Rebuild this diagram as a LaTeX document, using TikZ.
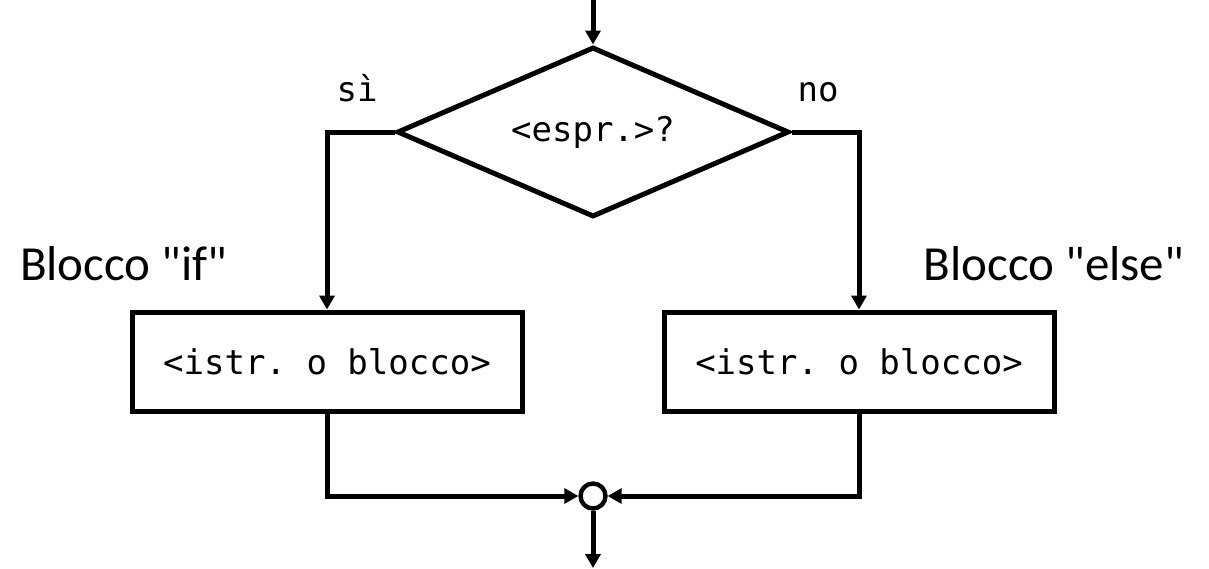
\documentclass[tikz,border=0pt]{standalone}
\usepackage{fontspec}
\setmainfont{Carlito}[Ligatures=TeXOff]
\newfontfamily\codefont{DejaVu Sans Mono}
\usetikzlibrary{shapes.geometric,arrows.meta}
\frenchspacing

\tikzset{
  flow/.style={line width=2.5pt, -{Triangle[length=7pt,width=7.5pt]}},
  decision/.style={draw, diamond, line width=2.5pt, inner sep=0pt, aspect=2.3,
    minimum width=196pt, minimum height=85pt, font=\codefont\fontsize{17}{20}\selectfont},
  block/.style={draw, rectangle, line width=2.5pt, minimum width=195pt, minimum height=49.5pt,
    font=\codefont\fontsize{17}{20}\selectfont},
  junction/.style={draw, circle, line width=2.2pt, inner sep=0pt, minimum size=12.5pt, fill=white},
  branch/.style={anchor=base, font=\codefont\fontsize{17}{20}\selectfont},
  caption/.style={anchor=base, font=\fontsize{24.5}{28}\selectfont}
}

\begin{document}
\begin{tikzpicture}[x=0.5pt,y=-0.5pt]
\useasboundingbox (0,0) rectangle (1209,568);

% Decision
\coordinate (start) at (593,0);
\node[decision] (cond) at (593,132) {<espr.>?};
\node[branch] (yes) at (357,101) {sì};
\node[branch] (no) at (818,101) {no};

% Branches
\node[block] (ifblk) at (327,361.5) {<istr. o blocco>};
\node[block] (elseblk) at (859,361.5) {<istr. o blocco>};
\node[caption, anchor=base west] (iflabel) at (13,280) {Blocco "if"};
\node[caption, anchor=base east] (elselabel) at (1191,280) {Blocco "else"};

% Merge
\node[junction] (merge) at (593,496) {};
\coordinate (end) at (593,568);

\draw[flow] (start) -- (cond.north);
\draw[flow] (cond.west) -| (ifblk.north);
\draw[flow] (cond.east) -| (elseblk.north);
\draw[flow] (ifblk.south) |- (merge.west);
\draw[flow] (elseblk.south) |- (merge.east);
\draw[flow] (merge.south) -- (end);
\end{tikzpicture}
\end{document}
